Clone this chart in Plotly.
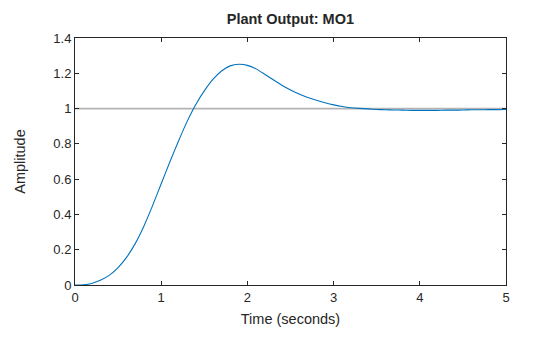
import plotly.graph_objects as go

# ---- data ----
time_s = [round(0.1 * i, 1) for i in range(51)]
amplitude = [
    0.000, 0.001, 0.010, 0.028, 0.056, 0.099, 0.158, 0.236, 0.335, 0.450,
    0.574, 0.697, 0.815, 0.926, 1.022, 1.100, 1.165, 1.213, 1.242, 1.251,
    1.245, 1.225, 1.195, 1.163, 1.132, 1.105, 1.082, 1.063, 1.047, 1.033,
    1.021, 1.012, 1.005, 1.001, 0.998, 0.995, 0.993, 0.992, 0.991, 0.990,
    0.990, 0.990, 0.990, 0.991, 0.991, 0.992, 0.993, 0.993, 0.994, 0.994,
    0.995,
]
ref_t = [0, 5]
ref_y = [1, 1]

x_ticks = [0, 1, 2, 3, 4, 5]
x_ticktext = ["0", "1", "2", "3", "4", "5"]
y_ticks = [0, 0.2, 0.4, 0.6, 0.8, 1.0, 1.2, 1.4]
y_ticktext = ["0", "0.2", "0.4", "0.6", "0.8", "1", "1.2", "1.4"]

title_text = "<b>Plant Output: MO1</b>"
x_label = "Time (seconds)"
y_label = "Amplitude"

FONT = "Liberation Sans, Arial, Helvetica, sans-serif"
TXT = "#262626"

fig = go.Figure()
fig.add_trace(go.Scatter(x=ref_t, y=ref_y, mode="lines",
                         line=dict(color="#b3b3b3", width=1.7),
                         hoverinfo="skip", showlegend=False))
fig.add_trace(go.Scatter(x=time_s, y=amplitude, mode="lines", line_shape="spline",
                         line=dict(color="#0072BD", width=1.1, smoothing=0.6),
                         showlegend=False))

axis_common = dict(
    showgrid=False, zeroline=False,
    showline=True, linecolor=TXT, linewidth=1, mirror="ticks",
    ticks="inside", ticklen=4, tickwidth=1, tickcolor=TXT,
    tickfont=dict(family=FONT, size=13, color=TXT),
)

fig.update_layout(
    width=560, height=337,
    margin=dict(l=75, r=54, t=38, b=52),
    paper_bgcolor="white", plot_bgcolor="white",
    title=dict(text=title_text, x=0.5185, xanchor="center",
               y=1 - 19 / 337, yanchor="middle",
               font=dict(family=FONT, size=14.5, color=TXT)),
    xaxis=dict(range=[0, 5], tickvals=x_ticks, ticktext=x_ticktext,
               title=dict(text=x_label, standoff=10,
                          font=dict(family=FONT, size=14.5, color=TXT)),
               **axis_common),
    yaxis=dict(range=[0, 1.4], tickvals=y_ticks, ticktext=y_ticktext,
               title=dict(text=y_label, standoff=24,
                          font=dict(family=FONT, size=14.5, color=TXT)),
               **axis_common),
)

fig.write_html("out.html")
